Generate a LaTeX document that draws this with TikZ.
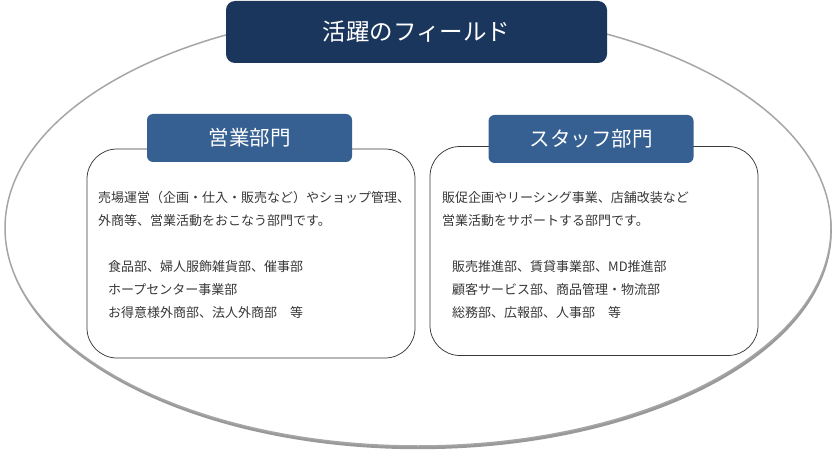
\documentclass[tikz,border=0pt]{standalone}
\usepackage{fontspec}
\newfontfamily\jpfont{Noto Sans CJK JP}
\usetikzlibrary{shapes.geometric,shadows}
\definecolor{fieldnavy}{HTML}{1B365D}
\definecolor{deptblue}{HTML}{366092}
\definecolor{ovalgray}{HTML}{A6A6A6}
\definecolor{textgray}{HTML}{383838}

\begin{document}
\begin{tikzpicture}[
    x=1pt, y=-1pt,
    fieldoval/.style={ellipse, draw=ovalgray, line width=1.5pt, fill=white, minimum width=826pt, minimum height=436pt, inner sep=0pt,
        drop shadow={shadow xshift=0.8pt, shadow yshift=-3.2pt, fill=black, opacity=0.4}},
    titlebox/.style={rectangle, rounded corners=9pt, fill=fieldnavy, text=white, font=\jpfont\fontsize{23.5}{28}\selectfont, minimum width=381pt, minimum height=62pt, inner sep=0pt},
    headbox/.style={rectangle, rounded corners=6pt, fill=deptblue, text=white, font=\jpfont\fontsize{20.5}{24}\selectfont, minimum width=205pt, minimum height=48pt, inner sep=0pt},
    deptbox/.style={rectangle, rounded corners=30pt, draw=textgray, line width=0.75pt, fill=white, minimum width=328pt, minimum height=209pt, inner sep=0pt},
    bodytext/.style={anchor=west, align=left, inner sep=0pt, text=textgray, font=\jpfont\fontsize{13}{23}\selectfont}
]
\useasboundingbox (0,0) rectangle (838,468);

% Field
\node[fieldoval] (fieldOval) at (418,228) {};
\node[titlebox] (fieldTitle) at (416.5,32) {活躍のフィールド};

% Sales division
\node[deptbox] (salesBox) at (251,253.5) {};
\node[headbox] (salesHead) at (249.5,138) {営業部門};
\node[bodytext] (salesText) at (98,255) {売場運営（企画・仕入・販売など）やショップ管理、\\外商等、営業活動をおこなう部門です。\\[23pt]\hspace*{10pt}食品部、婦人服飾雑貨部、催事部\\\hspace*{10pt}ホープセンター事業部\\\hspace*{10pt}お得意様外商部、法人外商部　等};

% Staff division
\node[deptbox] (staffBox) at (594,251) {};
\node[headbox] (staffHead) at (591,139) {スタッフ部門};
\node[bodytext] (staffText) at (442,255) {販促企画やリーシング事業、店舗改装など\\営業活動をサポートする部門です。\\[23pt]\hspace*{10pt}販売推進部、賃貸事業部、MD推進部\\\hspace*{10pt}顧客サービス部、商品管理・物流部\\\hspace*{10pt}総務部、広報部、人事部　等};

\end{tikzpicture}
\end{document}
